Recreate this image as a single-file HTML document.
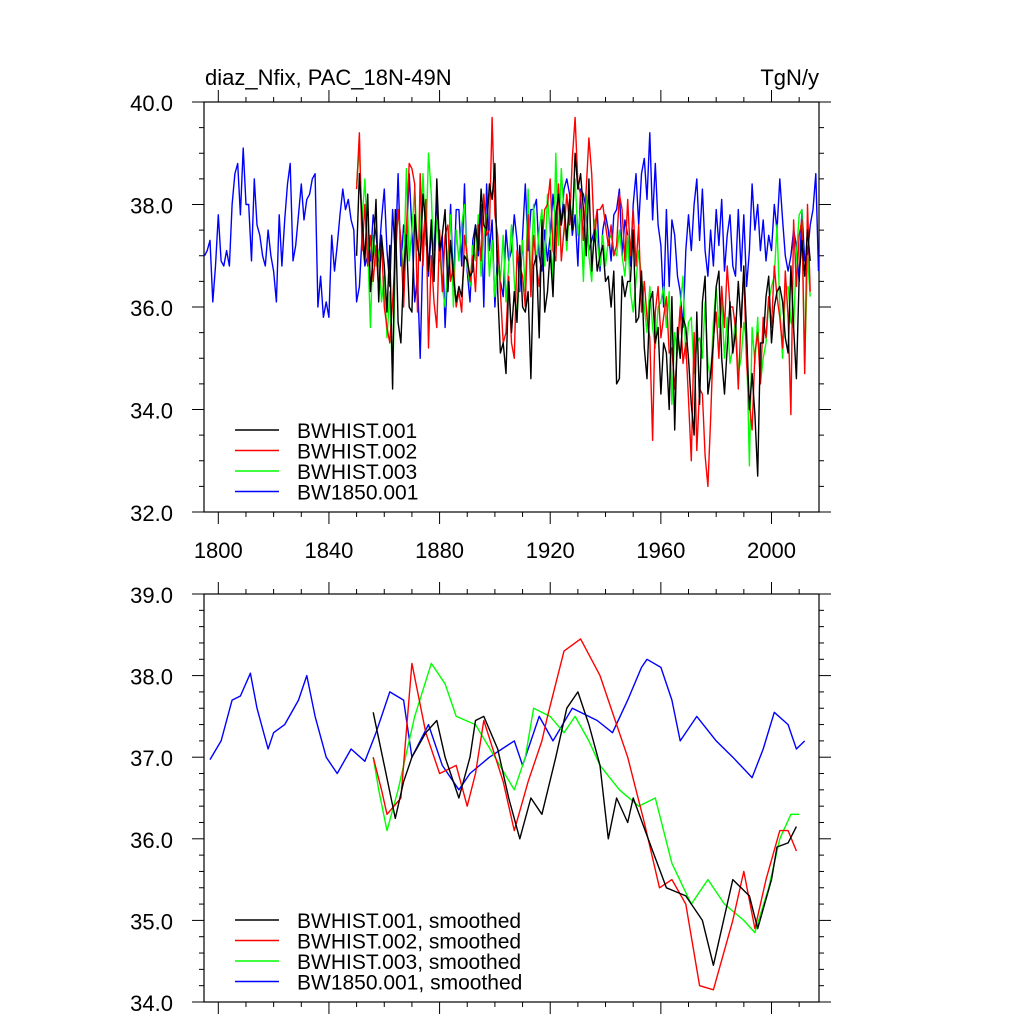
<!DOCTYPE html>
<html><head><meta charset="utf-8"><style>
body{margin:0;background:#fff;}
svg text{font-family:"Liberation Sans",sans-serif;fill:#000;}
</style></head><body>
<svg id="chart" width="1024" height="1024" xmlns="http://www.w3.org/2000/svg">
<rect width="1024" height="1024" fill="#fff"/>
<text x="205" y="85" font-size="22">diaz_Nfix, PAC_18N-49N</text>
<text x="819" y="85" font-size="22" text-anchor="end">TgN/y</text>
<g id="topPanel"></g>
<g id="botPanel"></g>
</svg>
<script>
const blueStart=1795;
const blueAnnual=[37.0,37.1,37.3,36.1,36.8,37.8,36.9,36.8,37.1,36.8,38.0,38.6,38.8,37.8,39.1,38.0,38.0,36.9,38.5,37.6,37.4,37.0,36.8,37.5,37.0,36.7,36.1,37.8,36.8,37.7,38.4,38.8,36.9,37.2,37.8,38.4,37.7,38.1,38.2,38.5,38.6,36.0,36.6,35.8,36.1,35.8,37.4,36.7,37.2,37.8,38.3,37.9,38.1,37.7,37.5,36.1,36.4,37.4,36.8,37.0,36.9,37.8,37.4,36.9,37.7,38.3,37.1,36.4,37.9,37.0,38.6,36.8,37.6,37.2,38.6,37.5,36.1,36.6,35.0,37.2,38.0,36.6,37.5,37.1,38.1,36.9,37.4,35.6,36.8,38.0,36.4,37.9,37.9,36.8,38.4,36.7,36.1,37.3,37.6,37.0,38.0,36.0,38.4,37.1,37.7,36.0,37.1,36.5,36.2,37.5,36.9,37.1,37.8,37.3,36.3,37.4,38.4,37.1,37.9,37.9,38.1,37.0,36.7,37.5,36.9,37.4,38.2,37.6,38.3,37.6,38.3,38.5,38.2,37.4,37.8,36.8,38.3,38.2,37.9,37.1,37.3,37.5,37.9,36.7,37.5,37.8,37.5,36.9,37.8,37.9,38.3,37.0,37.7,37.4,36.8,38.0,38.6,37.6,38.6,38.9,38.1,39.4,37.7,38.8,37.6,37.2,36.0,37.9,36.4,37.7,37.4,36.6,36.3,35.6,37.1,37.8,37.1,38.0,38.5,37.3,38.3,37.1,36.6,37.5,36.8,37.9,37.2,38.1,36.7,37.4,37.8,36.8,36.6,37.9,36.7,37.8,36.4,37.1,38.4,37.5,38.0,37.1,37.7,36.9,37.4,37.1,38.0,37.5,38.5,37.7,37.0,36.7,37.0,37.5,37.2,36.5,37.9,36.9,37.0,37.6,37.9,38.6,36.7];
const histStart=1850;
const blackAnnual=[37.0,38.6,37.7,36.9,38.2,36.3,37.0,38.1,36.1,37.4,36.8,35.9,37.2,34.4,37.9,35.7,35.3,36.7,37.4,36.0,35.9,37.8,37.2,36.9,38.2,37.6,36.7,37.7,36.5,38.5,37.1,37.4,37.9,36.3,37.3,36.6,36.1,36.4,36.2,37.0,36.9,36.6,36.7,37.6,37.1,38.3,37.6,37.5,38.4,38.1,38.8,36.3,35.1,35.3,34.7,36.5,35.5,36.3,35.7,37.2,36.0,35.9,36.3,34.6,36.8,37.0,35.4,37.7,35.9,36.3,37.1,36.2,37.8,38.2,37.6,38.0,37.3,38.1,37.5,39.0,38.3,38.6,37.9,37.0,38.5,36.7,37.5,36.7,37.0,37.2,36.5,36.6,36.0,36.7,34.5,34.6,36.6,36.2,36.5,36.5,37.5,35.7,35.8,36.7,35.2,34.6,36.1,36.3,35.3,35.6,34.3,35.3,35.1,34.0,36.2,33.6,35.6,35.0,35.8,35.6,35.0,34.1,33.5,35.9,34.1,36.1,36.6,34.3,34.7,35.3,36.4,36.7,35.0,34.3,35.2,36.1,35.1,35.5,36.5,35.6,36.8,35.5,34.0,34.7,33.9,32.7,35.3,35.3,36.2,36.6,35.3,36.0,36.3,36.4,36.1,35.4,35.1,36.8,35.6,34.6,36.6,37.3,36.6,37.5,36.9];
const redAnnual=[38.3,39.4,37.1,38.0,36.8,37.4,36.5,37.2,36.3,37.3,36.0,35.6,35.3,36.1,37.0,37.9,37.3,36.0,37.5,38.8,38.7,38.4,35.9,38.6,36.8,38.1,35.2,37.0,36.1,35.6,37.5,36.3,37.4,37.6,36.5,36.8,36.0,36.3,35.9,37.4,37.0,36.5,37.0,36.3,37.6,36.9,38.2,37.4,37.5,39.7,37.8,37.4,36.3,35.3,35.5,36.6,35.3,35.0,37.1,36.8,36.6,36.0,37.8,36.2,37.4,36.8,36.4,37.2,37.9,38.0,38.5,37.1,36.9,38.4,36.9,37.5,38.2,37.6,38.9,39.7,38.4,38.2,37.3,38.3,39.3,38.6,37.3,37.9,37.9,38.0,37.6,37.2,37.6,37.0,37.2,38.2,37.9,36.9,38.1,37.0,37.9,36.8,37.6,35.9,36.5,35.8,35.4,33.4,35.9,36.4,35.4,35.8,36.2,35.1,35.2,34.4,35.2,36.0,34.9,35.3,34.2,33.0,35.5,33.2,34.4,34.3,33.1,32.5,33.8,35.4,35.9,35.0,36.4,35.6,36.8,36.0,36.0,35.6,34.4,35.8,36.7,34.9,34.1,33.6,35.1,35.5,34.5,35.8,35.4,36.2,35.6,36.8,36.2,35.8,35.2,36.7,35.8,33.9,37.7,36.4,37.4,37.7,34.7,38.0,36.3];
const greenAnnual=[38.4,39.1,37.7,38.5,37.2,35.6,37.4,36.8,37.1,36.1,36.6,35.4,36.3,34.5,36.8,37.9,37.3,36.6,38.7,36.9,37.5,38.3,37.1,37.4,38.6,37.2,39.0,38.2,36.7,37.7,37.1,36.4,36.0,36.9,37.8,36.0,37.5,36.9,37.6,38.0,36.8,36.4,37.2,36.9,37.8,36.6,37.4,37.8,36.6,37.3,36.2,36.8,36.5,37.4,36.1,36.8,37.6,36.5,35.8,36.7,37.3,36.3,38.3,36.4,38.0,36.8,37.5,37.9,36.8,38.2,37.4,36.5,39.0,37.2,38.7,37.8,37.1,38.0,37.8,38.5,37.4,37.9,36.5,38.2,37.0,36.5,37.7,37.3,36.8,37.4,36.8,37.3,37.4,37.1,37.0,37.5,37.0,36.6,37.4,36.3,35.9,36.5,37.1,36.6,36.0,35.5,36.4,35.6,35.2,36.0,36.1,36.4,35.6,36.3,34.1,35.5,35.1,36.0,36.6,35.0,35.7,35.8,34.7,35.3,35.4,35.0,36.1,34.9,34.6,35.7,36.4,35.6,36.1,35.0,35.8,34.9,35.2,35.8,34.7,35.0,35.7,35.3,32.9,35.6,34.9,35.8,34.5,35.0,35.3,36.1,36.4,36.6,37.6,36.0,35.0,36.3,36.4,35.7,35.6,37.0,37.8,37.9,34.8,37.0,36.2];
const blueSmYears=[1797,1801,1805,1808,1811.6,1814,1818,1820,1824,1829,1832,1835,1839,1843,1848,1853,1857,1862,1867,1870,1876,1881,1887,1891,1898,1907,1910,1916,1921,1928,1937,1942.5,1948,1953,1955,1960,1964,1967,1973,1980,1986,1993,1997,2001,2006,2009,2012];
const blueSmVals=[36.97,37.2,37.7,37.75,38.03,37.6,37.1,37.3,37.4,37.7,38.0,37.5,37.0,36.8,37.1,36.95,37.3,37.8,37.7,37.0,37.4,36.9,36.6,36.8,37.0,37.2,36.9,37.5,37.2,37.6,37.45,37.3,37.7,38.1,38.2,38.1,37.7,37.2,37.5,37.2,37.0,36.75,37.1,37.55,37.4,37.1,37.2];
const blackSmYears=[1856,1860,1864,1867,1870,1875,1879,1882,1887,1891,1893,1896,1901,1905,1909,1913,1917,1922,1926,1930,1934,1938,1940,1941,1944,1948,1950,1956.5,1962,1969,1975,1979,1986,1992,1995,2000,2002,2006,2009];
const blackSmVals=[37.55,36.9,36.25,36.7,37.0,37.3,37.45,37.0,36.5,37.0,37.45,37.5,37.1,36.5,36.0,36.5,36.3,37.0,37.6,37.8,37.4,36.9,36.3,36.0,36.5,36.2,36.5,35.9,35.4,35.3,35.0,34.45,35.5,35.3,34.9,35.5,35.9,35.95,36.15];
const redSmYears=[1856,1859,1861,1866,1870,1875,1880,1886,1890,1893,1896,1903,1907,1912,1917,1919,1925,1931,1938,1944,1948,1954,1959.5,1964,1969,1974,1979,1986,1990,1994,1998,2003,2006,2009];
const redSmVals=[37.0,36.6,36.3,36.5,38.15,37.3,36.8,36.9,36.4,36.8,37.45,36.7,36.1,36.7,37.2,37.5,38.3,38.45,38.0,37.4,37.0,36.2,35.4,35.5,35.2,34.2,34.15,35.0,35.6,34.9,35.5,36.1,36.1,35.85];
const greenSmYears=[1856,1858,1861,1865,1871,1877,1882,1886,1893,1900,1907,1911,1914,1920,1925,1929,1934,1938,1945,1952,1958,1964,1971,1977,1983,1990,1994,1999,2003,2007,2010];
const greenSmVals=[37.0,36.6,36.1,36.6,37.5,38.15,37.9,37.5,37.4,37.0,36.6,37.0,37.6,37.5,37.3,37.5,37.2,36.9,36.6,36.4,36.5,35.7,35.2,35.5,35.2,35.0,34.85,35.4,36.0,36.3,36.3];
const xTicks=[1800,1840,1880,1920,1960,2000];
const topYTicks=[32,34,36,38,40];
const botYTicks=[34,35,36,37,38,39];

const NS='http://www.w3.org/2000/svg';
const X0=204,X1=819;
const xs=y=>218.3+(y-1800)*2.766;
function mk(p,tag,at){const e=document.createElementNS(NS,tag);for(const k in at)e.setAttribute(k,at[k]);p.appendChild(e);return e;}
function panel(g,Y0,Y1,vmin,vmax,yt,minorStep,labelX){
  const ys=v=>Y1-(v-vmin)/(vmax-vmin)*(Y1-Y0);
  const fr=mk(g,'rect',{x:X0,y:Y0,width:X1-X0,height:Y1-Y0,fill:'none',stroke:'#000','stroke-width':1.2});
  
  
  for(let yr=1800;yr<=2010;yr+=10){const maj=(yr-1800)%40===0,L=maj?12:5;const x=xs(yr);
    mk(g,'line',{x1:x,x2:x,y1:Y1,y2:Y1+L,stroke:'#000','stroke-width':1});
    mk(g,'line',{x1:x,x2:x,y1:Y0,y2:Y0-L,stroke:'#000','stroke-width':1});}
  if(labelX)xTicks.forEach(t=>{const tx=mk(g,'text',{x:xs(t),y:Y1+46,'font-size':22,'text-anchor':'middle'});tx.textContent=t;
    
    });
  const step=yt[1]-yt[0];
  const n=Math.round((vmax-vmin)/minorStep);
  for(let i=0;i<=n;i++){const v=vmin+i*minorStep,y=ys(v);const maj=Math.abs(v/step-Math.round(v/step))<1e-6;const L=maj?12:5;
    mk(g,'line',{x1:X0,x2:X0-L,y1:y,y2:y,stroke:'#000','stroke-width':1});
    mk(g,'line',{x1:X1,x2:X1+L,y1:y,y2:y,stroke:'#000','stroke-width':1});}
  yt.forEach(v=>{const tx=mk(g,'text',{x:173,y:ys(v)+9,'font-size':22,'text-anchor':'end'});tx.textContent=v.toFixed(1);
    
    });
  return ys;
}
function line(g,xsArr,vals,ys,col,name){
  const pts=vals.map((v,i)=>xs(xsArr[i]).toFixed(1)+','+ys(v).toFixed(1)).join(' ');
  const pl=mk(g,'polyline',{points:pts,fill:'none',stroke:col,'stroke-width':1.4,'stroke-linejoin':'round'});
  
  
}
function legend(g,y0,labels,cols){labels.forEach((l,i)=>{const y=y0+i*20.5;
  mk(g,'line',{x1:235,x2:279,y1:y,y2:y,stroke:cols[i],'stroke-width':1.4});
  const tx=mk(g,'text',{x:297,y:y+8,'font-size':21});tx.textContent=l;
  
  });}
const cols=['#000','#f00','#0f0','#00f'];
const topG=document.getElementById('topPanel'),botG=document.getElementById('botPanel');
const ysT=panel(topG,102,512,32,40,topYTicks,0.5,true);
const yrs=(s,a)=>a.map((_,i)=>s+i);
line(topG,yrs(blueStart,blueAnnual),blueAnnual,ysT,cols[3],'series-bw1850-001');
line(topG,yrs(histStart,greenAnnual),greenAnnual,ysT,cols[2],'series-bwhist-003');
line(topG,yrs(histStart,redAnnual),redAnnual,ysT,cols[1],'series-bwhist-002');
line(topG,yrs(histStart,blackAnnual),blackAnnual,ysT,cols[0],'series-bwhist-001');
legend(topG,430,['BWHIST.001','BWHIST.002','BWHIST.003','BW1850.001'],cols);
const ysB=panel(botG,594,1002,34,39,botYTicks,0.2,false);
line(botG,blueSmYears,blueSmVals,ysB,cols[3],'smoothed-bw1850-001');
line(botG,greenSmYears,greenSmVals,ysB,cols[2],'smoothed-bwhist-003');
line(botG,redSmYears,redSmVals,ysB,cols[1],'smoothed-bwhist-002');
line(botG,blackSmYears,blackSmVals,ysB,cols[0],'smoothed-bwhist-001');
legend(botG,920,['BWHIST.001, smoothed','BWHIST.002, smoothed','BWHIST.003, smoothed','BW1850.001, smoothed'],cols);
</script>
</body></html>
